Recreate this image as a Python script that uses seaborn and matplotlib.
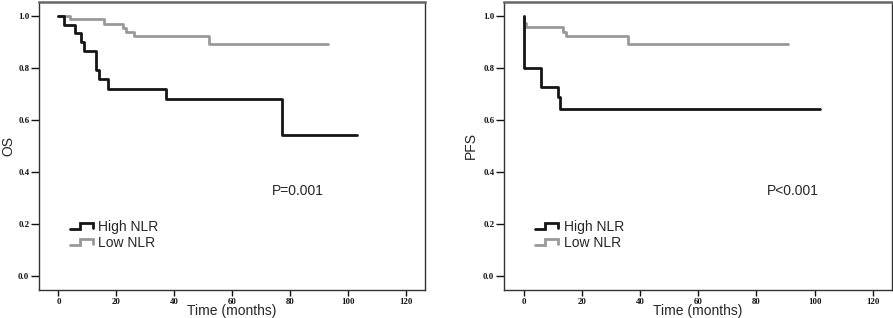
import matplotlib
matplotlib.use("Agg")
import matplotlib.pyplot as plt
from matplotlib.legend_handler import HandlerBase
from matplotlib.lines import Line2D
import seaborn as sns
import pandas as pd

# ---- data ----
os_high_t = [0, 1.8, 5.9, 7.9, 8.7, 12.9, 13.9, 17.1, 37.1, 77.1, 103.2]
os_high_s = [1.0, 0.965, 0.933, 0.900, 0.865, 0.792, 0.757, 0.719, 0.681, 0.543, 0.543]
os_low_t = [0, 3.9, 15.9, 22.2, 23.2, 26.0, 52.2, 93.2]
os_low_s = [1.0, 0.987, 0.969, 0.954, 0.938, 0.923, 0.892, 0.892]

pfs_high_t = [0, 0.2, 6.0, 11.9, 12.7, 101.7]
pfs_high_s = [1.0, 0.799, 0.728, 0.687, 0.642, 0.642]
pfs_low_t = [0, 0.3, 0.9, 13.7, 14.7, 35.8, 90.9]
pfs_low_s = [1.0, 0.972, 0.959, 0.940, 0.921, 0.891, 0.891]

groups = ["High NLR", "Low NLR"]
x_ticks = [0, 20, 40, 60, 80, 100, 120]
y_ticks = [0.0, 0.2, 0.4, 0.6, 0.8, 1.0]
panels = [("OS", "P=0.001", 73.8), ("PFS", "P<0.001", 83.5)]

colors = {"High NLR": "#151515", "Low NLR": "#999999"}


def make_df(ht, hs, lt, ls):
    a = pd.DataFrame({"t": ht, "s": hs, "group": groups[0]})
    b = pd.DataFrame({"t": lt, "s": ls, "group": groups[1]})
    return pd.concat([a, b], ignore_index=True)


dfs = [make_df(os_high_t, os_high_s, os_low_t, os_low_s),
       make_df(pfs_high_t, pfs_high_s, pfs_low_t, pfs_low_s)]


class StepHandler(HandlerBase):
    def create_artists(self, legend, orig_handle, xdescent, ydescent,
                       width, height, fontsize, trans):
        w, h = width, height
        xs = [-xdescent, -xdescent + 0.42 * w, -xdescent + 0.42 * w, -xdescent + w, -xdescent + w]
        lo = -ydescent + 0.22 * h
        hi = -ydescent + 0.78 * h
        ys = [lo, lo, hi, hi, lo + 0.05 * h]
        ln = Line2D(xs, ys, color=orig_handle.get_color(), lw=2.0,
                    solid_joinstyle="miter", transform=trans)
        return [ln]


sns.set_style("white")
plt.rcParams["font.family"] = ["Liberation Sans", "DejaVu Sans"]

fig = plt.figure(figsize=(8.93, 3.18), dpi=100)
positions = [[0.0437, 0.088, 0.432, 0.906], [0.5644, 0.088, 0.4345, 0.906]]
ylabel_x = [-0.061, -0.068]

for i, (ylab, ptxt, px) in enumerate(panels):
    ax = fig.add_axes(positions[i])
    sns.lineplot(data=dfs[i], x="t", y="s", hue="group", palette=colors,
                 drawstyle="steps-post", estimator=None, sort=True,
                 linewidth=2.0, ax=ax, legend=False, hue_order=groups[::-1])
    ax.set_xlim(-6.7, 126.6)
    ax.set_ylim(-0.054, 1.054)
    ax.set_xticks(x_ticks)
    ax.set_yticks(y_ticks)
    ax.set_xticklabels([str(v) for v in x_ticks], fontfamily="Liberation Serif",
                       fontsize=6.3, fontweight="bold")
    ax.set_yticklabels([f"{v:.1f}" for v in y_ticks], fontfamily="Liberation Serif",
                       fontsize=6.3, fontweight="bold")
    ax.tick_params(axis="y", direction="out", length=5.5, width=1.0, pad=1.5,
                   left=True, colors="#111111")
    ax.tick_params(axis="x", direction="out", length=4.3, width=1.0, pad=1.2,
                   bottom=True, colors="#111111")
    for side in ["left", "bottom", "right"]:
        ax.spines[side].set_visible(True)
        ax.spines[side].set_color("#333333")
        ax.spines[side].set_linewidth(1.0)
    ax.spines["top"].set_color("#666666")
    ax.spines["top"].set_linewidth(1.8)

    ax.set_xlabel("Time (months)", fontsize=10)
    ax.set_ylabel(ylab, fontsize=10)
    ax.xaxis.set_label_coords(0.5, -0.05)
    ax.yaxis.set_label_coords(ylabel_x[i], 0.5)

    ax.text(px, 0.327, ptxt, fontsize=10, ha="left", va="center")

    handles = [Line2D([], [], color=colors[g]) for g in groups]
    ax.legend(handles, groups, loc="center left", bbox_to_anchor=(0.08, 0.191),
              frameon=False, fontsize=10, handlelength=1.65, handletextpad=0.4,
              labelspacing=0.15, borderpad=0, borderaxespad=0,
              handler_map={Line2D: StepHandler()})

fig.savefig("out.png", dpi=100)
